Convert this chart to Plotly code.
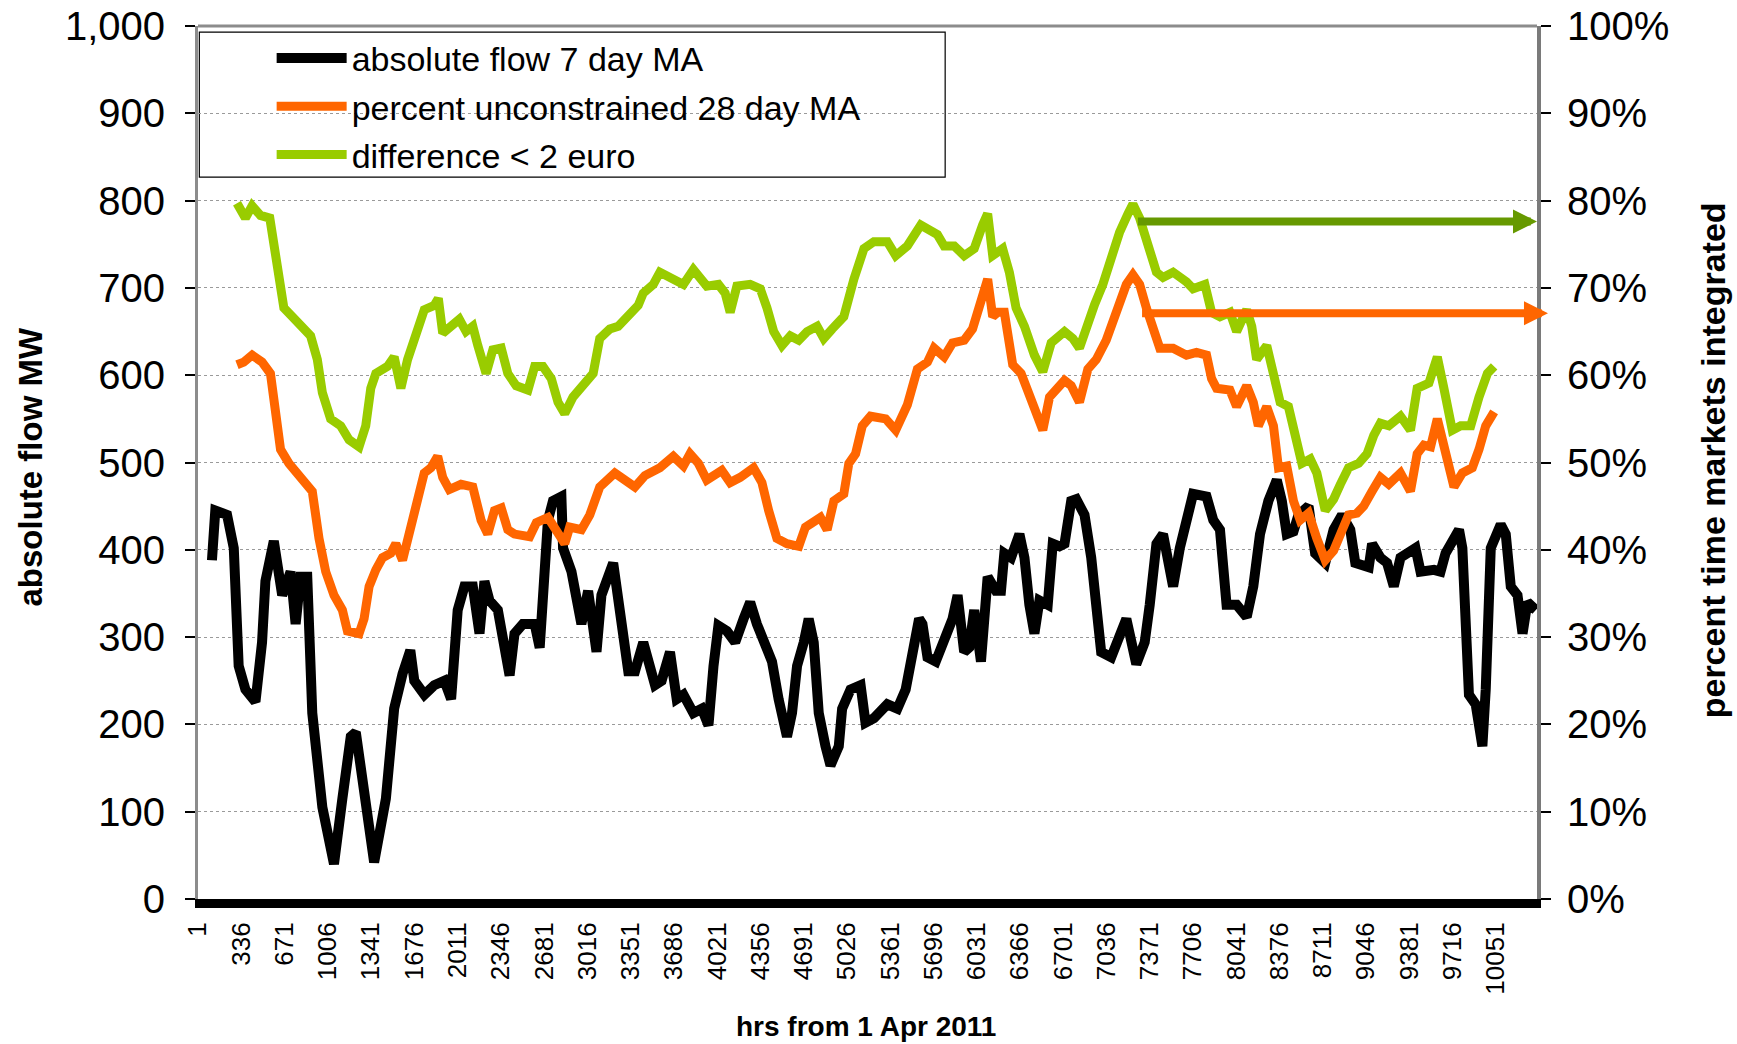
import plotly.graph_objects as go

# ---------------------------------------------------------
# data (x = hours from 1 Apr 2011)
# ---------------------------------------------------------
flow_hours = [109, 135, 226, 278, 316, 368, 446, 497, 523, 588, 653, 718, 757, 795, 847, 886, 964, 1054,
              1119, 1184, 1223, 1274, 1365, 1456, 1520, 1585, 1645, 1676, 1754, 1831, 1909, 1961, 2012,
              2064, 2129, 2181, 2219, 2258, 2323, 2414, 2452, 2517, 2608, 2647, 2672, 2711, 2750, 2815,
              2828, 2893, 2970, 3022, 3087, 3125, 3216, 3281, 3333, 3385, 3449, 3540, 3591, 3656, 3708,
              3760, 3837, 3902, 3954, 3993, 4031, 4096, 4161, 4226, 4277, 4329, 4394, 4446, 4497, 4562,
              4601, 4640, 4692, 4730, 4769, 4808, 4860, 4899, 4963, 4989, 5054, 5132, 5170, 5235, 5339,
              5417, 5481, 5533, 5585, 5611, 5650, 5714, 5779, 5844, 5883, 5934, 5973, 6012, 6064, 6116,
              6180, 6219, 6245, 6297, 6362, 6401, 6439, 6478, 6517, 6581, 6620, 6672, 6711, 6763, 6802,
              6866, 6918, 6957, 6995, 7073, 7138, 7190, 7267, 7332, 7371, 7423, 7474, 7552, 7604, 7656,
              7707, 7811, 7863, 7915, 7966, 8044, 8122, 8173, 8225, 8290, 8355, 8394, 8432, 8484, 8523,
              8601, 8652, 8730, 8795, 8860, 8924, 8963, 9067, 9093, 9157, 9209, 9261, 9313, 9429, 9468,
              9572, 9623, 9662, 9766, 9792, 9843, 9895, 9947, 9973, 10012, 10089, 10128, 10167, 10219,
              10258, 10296, 10361]
flow_mw = [388, 445, 440, 402, 267, 240, 226, 294, 364, 410, 348, 375, 315, 369, 369, 213, 105, 40,
           115, 186, 191, 131, 42, 115, 218, 258, 285, 250, 234, 245, 250, 229, 331,
           358, 358, 304, 364, 342, 331, 256, 304, 315, 315, 288, 364, 434, 456, 461,
           402, 375, 315, 353, 283, 348, 385, 326, 261, 261, 294, 245, 250, 283, 229,
           234, 213, 218, 199, 267, 313, 307, 294, 321, 340, 315, 288, 272, 229, 186,
           213, 267, 294, 321, 294, 213, 175, 153, 175, 218, 240, 245, 202, 207, 223,
           218, 240, 277, 321, 315, 277, 272, 294, 321, 348, 283, 288, 331, 272, 369,
           353, 353, 396, 391, 418, 391, 337, 304, 342, 337, 407, 404, 407, 456, 458,
           440, 391, 321, 283, 277, 299, 321, 269, 294, 337, 407, 418, 358, 402, 440,
           464, 461, 434, 423, 337, 337, 323, 358, 418, 456, 480, 456, 418, 421, 440,
           450, 396, 385, 423, 440, 423, 385, 380, 407, 391, 385, 358, 391, 402, 375,
           377, 375, 396, 423, 402, 234, 223, 175, 240, 402, 429, 418, 358, 348,
           304, 340, 331]

unconstrained_hours = [303, 355, 420, 497, 562, 601, 640, 705, 769, 821, 886, 938, 990, 1054, 1119, 1158,
                       1248, 1287, 1326, 1378, 1430, 1494, 1533, 1585, 1624, 1689, 1753, 1805, 1857, 1896,
                       1947, 2038, 2129, 2193, 2245, 2297, 2349, 2400, 2452, 2569, 2621, 2711, 2763, 2841,
                       2879, 2970, 3035, 3112, 3229, 3307, 3384, 3462, 3540, 3578, 3682, 3760, 3811, 3876,
                       3941, 4057, 4122, 4200, 4303, 4368, 4420, 4484, 4562, 4653, 4705, 4769, 4821, 4873,
                       4925, 5002, 5041, 5093, 5145, 5209, 5326, 5404, 5494, 5572, 5650, 5701, 5779, 5844,
                       5934, 5999, 6051, 6116, 6155, 6193, 6245, 6310, 6375, 6439, 6491, 6543, 6595, 6660,
                       6711, 6763, 6827, 6892, 6957, 7034, 7112, 7190, 7241, 7293, 7345, 7410, 7449, 7552,
                       7656, 7733, 7811, 7850, 7889, 7992, 8044, 8122, 8173, 8212, 8277, 8329, 8368, 8432,
                       8484, 8536, 8601, 8665, 8730, 8795, 8847, 8911, 8976, 9028, 9093, 9157, 9222, 9313,
                       9390, 9442, 9494, 9546, 9598, 9649, 9727, 9792, 9869, 9921, 9973, 10038]
unconstrained_pct = [61.2, 61.5, 62.3, 61.5, 60.2, 55.3, 51.5, 49.9, 48.8, 47.7, 46.7, 41.3, 37.5, 34.8, 33.1, 30.7,
                     30.4, 32.1, 35.8, 37.7, 39.1, 39.6, 40.7, 38.8, 41.3, 45.6, 48.8, 49.4, 50.7, 48.3,
                     46.9, 47.5, 47.2, 43.4, 41.8, 44.5, 44.8, 42.3, 41.8, 41.5, 43.1, 43.7, 42.3, 40.7,
                     42.6, 42.3, 44.0, 47.2, 48.8, 48.0, 47.2, 48.5, 49.0, 49.4, 50.7, 49.6, 51.0, 49.9,
                     48.0, 49.1, 47.7, 48.3, 49.4, 47.7, 44.5, 41.3, 40.7, 40.4, 42.6, 43.1, 43.7, 42.3,
                     45.6, 46.4, 49.9, 51.0, 54.2, 55.3, 55.0, 53.7, 56.6, 60.7, 61.5, 63.1, 62.1, 63.7,
                     64.0, 65.3, 67.7, 71.0, 66.7, 67.2, 67.2, 61.2, 60.2, 57.5, 55.3, 53.7, 57.5, 58.5,
                     59.4, 58.8, 56.9, 60.7, 61.8, 64.0, 67.2, 70.4, 71.5, 70.4, 67.7, 64.5, 63.1, 63.1,
                     62.3, 62.6, 62.3, 59.6, 58.5, 58.3, 56.4, 58.8, 56.9, 54.2, 56.4, 54.2, 49.4, 49.6,
                     45.6, 43.4, 44.2, 41.3, 38.8, 39.9, 41.8, 44.0, 44.2, 45.0, 46.7, 48.3, 47.5, 48.8,
                     46.7, 51.0, 52.0, 51.8, 55.0, 51.5, 47.2, 48.8, 49.4, 51.5, 54.2, 55.8]

diff_hours = [303, 368, 420, 485, 557, 588, 627, 666, 731, 795, 873, 925, 964, 1028, 1106, 1171, 1248,
              1300, 1339, 1378, 1468, 1520, 1572, 1624, 1689, 1753, 1831, 1862, 1896, 1973, 2025, 2077,
              2129, 2168, 2232, 2284, 2349, 2400, 2465, 2556, 2608, 2672, 2737, 2789, 2841, 2905, 2970,
              3061, 3112, 3190, 3255, 3333, 3410, 3449, 3527, 3578, 3656, 3760, 3837, 3941, 4031, 4083,
              4122, 4174, 4277, 4355, 4407, 4459, 4523, 4588, 4653, 4718, 4795, 4847, 4912, 5002, 5080,
              5158, 5235, 5339, 5404, 5494, 5598, 5675, 5727, 5779, 5857, 5934, 6012, 6077, 6116, 6155,
              6232, 6284, 6336, 6401, 6478, 6543, 6608, 6711, 6776, 6827, 6879, 6944, 7008, 7073, 7138,
              7203, 7241, 7293, 7358, 7423, 7474, 7552, 7656, 7707, 7798, 7850, 7915, 7992, 8044, 8122,
              8161, 8199, 8277, 8329, 8381, 8445, 8510, 8549, 8614, 8665, 8730, 8795, 8847, 8911, 8989,
              9054, 9106, 9157, 9222, 9313, 9390, 9442, 9533, 9598, 9649, 9714, 9779, 9857, 9921, 9986,
              10038]
diff_pct = [79.7, 78.0, 79.4, 78.3, 78.0, 74.8, 70.4, 67.7, 66.7, 65.8, 64.5, 61.8, 58.0, 55.0, 54.2, 52.6, 51.8,
            54.2, 58.5, 60.2, 61.0, 62.1, 58.5, 61.8, 64.5, 67.5, 68.0, 68.8, 64.8, 65.6, 66.4, 65.0,
            65.6, 63.4, 60.2, 62.9, 63.1, 60.2, 58.8, 58.3, 61.0, 61.0, 59.6, 56.9, 55.6, 57.5, 58.5,
            60.2, 64.2, 65.3, 65.6, 66.9, 68.0, 69.4, 70.4, 71.8, 71.2, 70.4, 72.1, 70.2, 70.4, 69.4,
            67.2, 70.2, 70.4, 69.9, 67.7, 65.0, 63.4, 64.5, 64.0, 65.0, 65.6, 64.2, 65.3, 66.7, 71.0,
            74.5, 75.3, 75.3, 73.7, 74.8, 77.2, 76.4, 76.1, 74.8, 74.8, 73.7, 74.5, 77.2, 78.5, 73.7,
            74.5, 71.8, 67.7, 65.6, 62.3, 60.4, 63.7, 65.0, 64.2, 63.1, 65.6, 68.1, 70.4, 73.7, 76.4,
            78.5, 79.6, 78.0, 74.8, 71.8, 71.2, 71.8, 70.7, 69.9, 70.4, 67.2, 66.7, 67.2, 65.0, 67.5,
            65.6, 61.8, 63.4, 59.6, 56.9, 56.4, 52.1, 49.9, 50.4, 48.8, 44.5, 45.8, 47.5, 49.4, 49.9,
            51.0, 53.1, 54.5, 54.2, 55.3, 53.7, 58.5, 59.1, 62.1, 58.5, 53.7, 54.2, 54.2, 57.5, 60.2,
            61.0]

x_ticks = list(range(1, 10052, 335))

# level arrows (right axis, %)
arrow_diff = dict(start=7268, end=10370, level=77.6)
arrow_unc = dict(start=7300, end=10455, level=67.1)

FONT = "Liberation Sans, Arial, sans-serif"

fig = go.Figure()
fig.add_trace(go.Scatter(
    x=flow_hours, y=flow_mw, mode="lines", name="absolute flow 7 day MA",
    line=dict(color="#000000", width=10), legendgroup="a"
))
fig.add_trace(go.Scatter(
    x=unconstrained_hours, y=unconstrained_pct, mode="lines", yaxis="y2",
    name="percent unconstrained 28 day MA",
    line=dict(color="#FF6600", width=9), legendgroup="b"
))
fig.add_trace(go.Scatter(
    x=diff_hours, y=diff_pct, mode="lines", yaxis="y2",
    name="difference < 2 euro",
    line=dict(color="#99CC00", width=9), legendgroup="c"
))

fig.update_layout(
    width=1737,
    height=1044,
    paper_bgcolor="white",
    plot_bgcolor="white",
    font=dict(family=FONT, color="#000000"),
    margin=dict(l=198, r=200, t=26, b=145, autoexpand=False),
    showlegend=True,
    legend=dict(
        x=0.055, y=0.996, xanchor="left", yanchor="top",
        bgcolor="rgba(0,0,0,0)", borderwidth=0,
        font=dict(size=34, family=FONT),
        itemwidth=70, tracegroupgap=1
    ),
    xaxis=dict(
        range=[1, 10370], automargin=False,
        tickmode="array", tickvals=x_ticks, ticktext=[str(t) for t in x_ticks],
        tickangle=-90, tickfont=dict(size=26),
        showgrid=False, zeroline=False,
        showline=True, linecolor="#000000", linewidth=9,
        ticks="", ticklabelstandoff=4
    ),
    yaxis=dict(
        range=[0, 1000], dtick=100, tickformat=",", automargin=False,
        tickfont=dict(size=40),
        showgrid=True, gridcolor="#9a9a9a", griddash="dot", gridwidth=1,
        zeroline=False,
        showline=True, linecolor="#8c8c8c", linewidth=3,
        ticks="outside", ticklen=10, tickcolor="#000000", tickwidth=1.5,
        ticklabelstandoff=12
    ),
    yaxis2=dict(
        overlaying="y", side="right", automargin=False,
        range=[0, 100], dtick=10, ticksuffix="%",
        tickfont=dict(size=40),
        showgrid=False, zeroline=False,
        showline=True, linecolor="#7a7a7a", linewidth=4,
        ticks="outside", ticklen=10, tickcolor="#000000", tickwidth=1.5,
        ticklabelstandoff=8
    ),
    shapes=[
        # legend frame
        dict(type="rect", xref="paper", yref="paper", x0=0.001, x1=0.558, y0=0.827, y1=0.993,
             line=dict(color="#000000", width=1.2), fillcolor="white", layer="between"),
        # top border of plot area
        dict(type="line", xref="paper", yref="paper", x0=0, x1=1, y0=1, y1=1,
             line=dict(color="#8c8c8c", width=3)),
    ],
    annotations=[
        dict(x=arrow_diff["end"], y=arrow_diff["level"], ax=arrow_diff["start"], ay=arrow_diff["level"],
             xref="x", yref="y2", axref="x", ayref="y2", text="", showarrow=True,
             arrowhead=2, arrowsize=0.6, arrowwidth=8, arrowcolor="#669900"),
        dict(x=arrow_unc["end"], y=arrow_unc["level"], ax=arrow_unc["start"], ay=arrow_unc["level"],
             xref="x", yref="y2", axref="x", ayref="y2", text="", showarrow=True,
             arrowhead=2, arrowsize=0.6, arrowwidth=8, arrowcolor="#FF6600"),
        dict(text="<b>absolute flow MW</b>", xref="paper", yref="paper", x=-0.125, y=0.495,
             showarrow=False, textangle=-90, font=dict(size=33, family=FONT),
             xanchor="center", yanchor="middle"),
        dict(text="<b>percent time markets integrated</b>", xref="paper", yref="paper", x=1.131, y=0.503,
             showarrow=False, textangle=-90, font=dict(size=34, family=FONT),
             xanchor="center", yanchor="middle"),
        dict(text="<b>hrs from 1 Apr 2011</b>", xref="paper", yref="paper", x=0.499, y=-0.1466,
             showarrow=False, font=dict(size=28, family=FONT),
             xanchor="center", yanchor="middle"),
    ],
)

fig.write_html(
    "out.html",
    config={"displayModeBar": False},
    post_script="document.body.style.margin='0';document.body.style.overflow='hidden';"
)
